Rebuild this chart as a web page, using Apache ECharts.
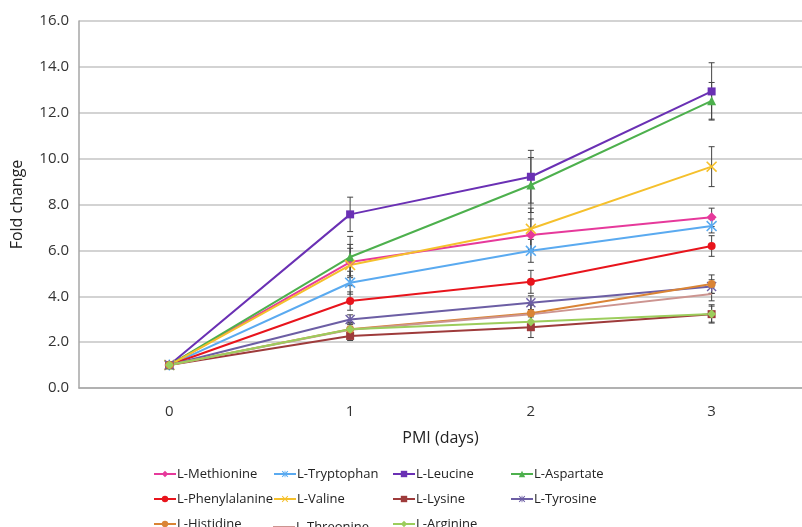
<!DOCTYPE html>
<html>
<head>
<meta charset="utf-8">
<script src="https://cdn.jsdelivr.net/npm/echarts@6/dist/echarts.min.js"></script>
<style>
  html, body { margin: 0; padding: 0; background: #fff; }
  #main { width: 802px; height: 527px; }
</style>
</head>
<body>
<div id="main"></div>
<script>
// data
var days = ['0', '1', '2', '3'];
var yTicks = [0, 2, 4, 6, 8, 10, 12, 14, 16];

var methionine    = [1.0, 5.49, 6.67, 7.44];
var tryptophan    = [1.0, 4.59, 5.98, 7.06];
var leucine       = [1.0, 7.57, 9.21, 12.93];
var aspartate     = [1.0, 5.71, 8.85, 12.52];
var phenylalanine = [1.0, 3.79, 4.63, 6.19];
var valine        = [1.0, 5.36, 6.94, 9.65];
var lysine        = [1.0, 2.27, 2.65, 3.22];
var tyrosine      = [1.0, 2.99, 3.72, 4.42];
var histidine     = [1.0, 2.56, 3.26, 4.53];
var threonine     = [1.0, 2.54, 3.21, 4.10];
var arginine      = [1.0, 2.56, 2.89, 3.23];

// standard deviations (estimated)
var methionineErr    = [0, 0.6, 0.7, 0.4];
var tryptophanErr    = [0, 0.5, 0.5, 0.3];
var leucineErr       = [0, 0.75, 1.15, 1.25];
var aspartateErr     = [0, 0.9, 1.2, 0.8];
var phenylalanineErr = [0, 0.4, 0.5, 0.45];
var valineErr        = [0, 0.9, 0.9, 0.87];
var lysineErr        = [0, 0.2, 0.45, 0.35];
var tyrosineErr      = [0, 0.2, 0.3, 0.3];
var histidineErr     = [0, 0.3, 0.4, 0.4];
var threonineErr     = [0, 0.3, 0.4, 0.3];
var arginineErr      = [0, 0.2, 0.3, 0.4];

var xSym = 'path://M0,1L1,0L5,4L9,0L10,1L6,5L10,9L9,10L5,6L1,10L0,9L4,5Z';
var starSym = 'path://M0,1L1,0L5,4L9,0L10,1L6,5L10,9L9,10L5,6L1,10L0,9L4,5Z M4.4,0L5.6,0L5.6,10L4.4,10Z';

// legend grid: column and row of each entry
var legendCols = [153, 273, 392, 510];
var legendRows = [471, 496, 521];

var defs = [
  {name: 'L-Methionine',    data: methionine,    err: methionineErr,    color: '#e6399b', symbol: 'diamond',  size: 10, col: 0, row: 0},
  {name: 'L-Tryptophan',    data: tryptophan,    err: tryptophanErr,    color: '#5aaaf0', symbol: starSym,    size: 11, col: 1, row: 0},
  {name: 'L-Leucine',       data: leucine,       err: leucineErr,       color: '#6a30b4', symbol: 'rect',     size: 8,  col: 2, row: 0},
  {name: 'L-Aspartate',     data: aspartate,     err: aspartateErr,     color: '#4db04d', symbol: 'triangle', size: 9,  col: 3, row: 0},
  {name: 'L-Phenylalanine', data: phenylalanine, err: phenylalanineErr, color: '#e8141c', symbol: 'circle',   size: 8,  col: 0, row: 1},
  {name: 'L-Valine',        data: valine,        err: valineErr,        color: '#f5c02c', symbol: xSym,       size: 11, col: 1, row: 1},
  {name: 'L-Lysine',        data: lysine,        err: lysineErr,        color: '#9e3b3b', symbol: 'rect',     size: 8,  col: 2, row: 1},
  {name: 'L-Tyrosine',      data: tyrosine,      err: tyrosineErr,      color: '#6c5ea4', symbol: starSym,    size: 10, col: 3, row: 1},
  {name: 'L-Histidine',     data: histidine,     err: histidineErr,     color: '#da8435', symbol: 'circle',   size: 8,  col: 0, row: 2},
  {name: 'L-Threonine',     data: threonine,     err: threonineErr,     color: '#cc9490', symbol: 'none',     size: 0,  col: 1, row: 2},
  {name: 'L-Arginine',      data: arginine,      err: arginineErr,      color: '#9ccd5c', symbol: 'diamond',  size: 9,  col: 2, row: 2}
];

var myChart = echarts.init(document.getElementById('main'));
var font = '"Open Sans", "Liberation Sans", sans-serif';

var series = [];
var legends = [];
defs.forEach(function (d) {
  var bars = [];
  for (var i = 0; i < days.length; i++) {
    if (d.err[i] > 0) bars.push([i, d.data[i] - d.err[i], d.data[i] + d.err[i]]);
  }
  series.push({
    type: 'custom',
    name: d.name + ' err',
    data: bars,
    z: 1,
    silent: true,
    renderItem: function (params, api) {
      var lo = api.coord([api.value(0), api.value(1)]);
      var hi = api.coord([api.value(0), api.value(2)]);
      var w = 3;
      var st = {stroke: '#444', lineWidth: 1};
      return {type: 'group', children: [
        {type: 'line', shape: {x1: lo[0], y1: lo[1], x2: hi[0], y2: hi[1]}, style: st},
        {type: 'line', shape: {x1: lo[0] - w, y1: lo[1], x2: lo[0] + w, y2: lo[1]}, style: st},
        {type: 'line', shape: {x1: hi[0] - w, y1: hi[1], x2: hi[0] + w, y2: hi[1]}, style: st}
      ]};
    }
  });
  series.push({
    type: 'line',
    name: d.name,
    data: d.data,
    z: 2,
    symbol: d.symbol,
    symbolSize: d.size,
    showSymbol: d.symbol !== 'none',
    lineStyle: {color: d.color, width: 2},
    itemStyle: {color: d.color},
    color: d.color
  });
  var plain = d.symbol === 'none';
  var ih = plain ? 2 : 8;
  legends.push({
    left: legendCols[d.col],
    top: legendRows[d.row] - ih / 2,
    padding: 0,
    itemWidth: 22,
    itemHeight: ih,
    data: plain ? [{name: d.name, icon: 'rect', itemStyle: {color: d.color}}] : [d.name],
    textStyle: {fontFamily: font, fontSize: 13, color: '#222', lineHeight: 14, padding: [0, 0, 0, -4]}
  });
});

var option = {
  animation: false,
  backgroundColor: '#fff',
  grid: {left: 79, right: -12, top: 21, bottom: 139},
  legend: legends,
  xAxis: {
    type: 'category',
    data: days,
    boundaryGap: true,
    name: 'PMI (days)',
    nameLocation: 'middle',
    nameGap: 42,
    nameTextStyle: {fontFamily: font, fontSize: 16, color: '#222'},
    axisLine: {lineStyle: {color: '#a6a6a6', width: 1.5}},
    axisTick: {show: false},
    axisLabel: {fontFamily: font, fontSize: 15, color: '#333', margin: 16}
  },
  yAxis: {
    type: 'value',
    min: yTicks[0],
    max: yTicks[yTicks.length - 1],
    interval: 2,
    name: 'Fold change',
    nameLocation: 'middle',
    nameGap: 54,
    nameTextStyle: {fontFamily: font, fontSize: 16, color: '#222'},
    axisLine: {show: true, lineStyle: {color: '#a6a6a6', width: 1.5}},
    axisTick: {show: false},
    splitLine: {lineStyle: {color: '#c4c4c4', width: 1.5}},
    axisLabel: {
      fontFamily: font, fontSize: 15, color: '#333', margin: 10,
      formatter: function (v) { return v.toFixed(1); }
    }
  },
  series: series
};

myChart.setOption(option);
</script>
</body>
</html>
